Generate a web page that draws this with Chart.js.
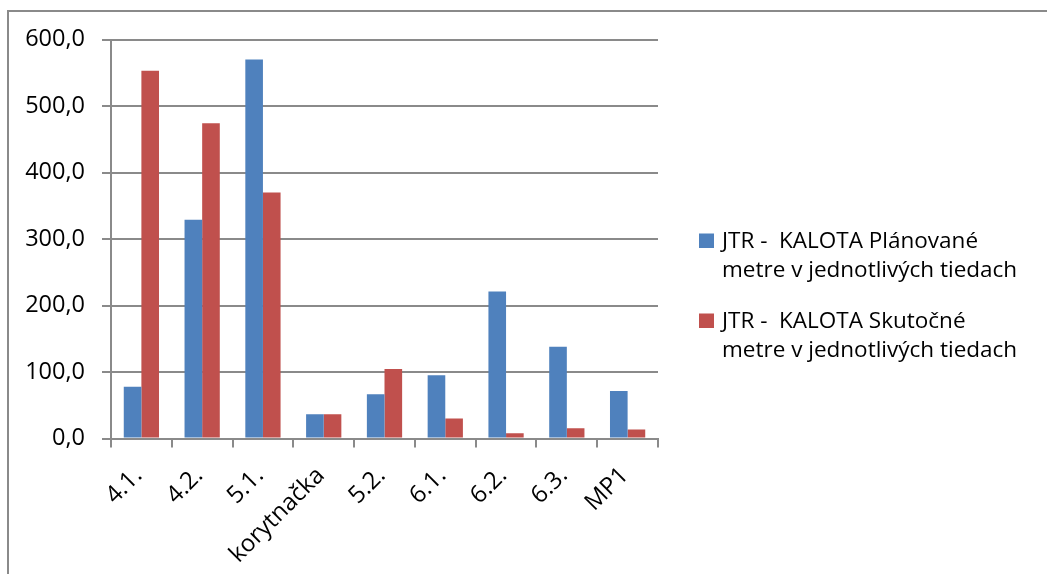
<!DOCTYPE html>
<html>
<head>
<meta charset="utf-8">
<script src="https://cdn.jsdelivr.net/npm/chart.js@4/dist/chart.umd.min.js"></script>
<style>
  html, body { margin: 0; padding: 0; background: #fff; }
  #wrap { width: 1047px; height: 574px; position: relative; }
</style>
</head>
<body>
<div id="wrap"><canvas id="c" width="1047" height="574"></canvas></div>
<script>
// Tunnel sections
const categories = ['4.1.', '4.2.', '5.1.', 'korytnačka', '5.2.', '6.1.', '6.2.', '6.3.', 'MP1'];

// Planned metres per section (JTR - KALOTA)
const plannedMetres = [78, 329, 570, 36.5, 66.5, 95, 221, 138, 71.5];

// Actual metres per section (JTR - KALOTA)
const actualMetres = [553, 474, 370, 36.5, 104.5, 30, 8, 15.5, 13.5];

// Legend text, one entry per series, split into its two lines
const seriesNames = [
  ['JTR -  KALOTA Plánované', 'metre v jednotlivých tiedach'],
  ['JTR -  KALOTA Skutočné', 'metre v jednotlivých tiedach']
];

const seriesColors = ['#4F81BD', '#C0504D'];

const FONT = '"Open Sans", "Liberation Sans", sans-serif';
const GRID = '#8a8a8a';

// Thin frame along the top and left edges of the figure
const framePlugin = {
  id: 'frame',
  beforeDraw(chart) {
    const ctx = chart.ctx;
    ctx.save();
    ctx.fillStyle = '#fff';
    ctx.fillRect(0, 0, chart.width, chart.height);
    ctx.strokeStyle = GRID;
    ctx.lineWidth = 2;
    ctx.beginPath();
    ctx.moveTo(8, chart.height);
    ctx.lineTo(8, 11);
    ctx.lineTo(chart.width, 11);
    ctx.stroke();
    ctx.restore();
  }
};

// Two-line legend drawn to the right of the plot
const sideLegend = {
  id: 'sideLegend',
  afterDraw(chart) {
    const ctx = chart.ctx;
    ctx.save();
    ctx.font = '22.5px ' + FONT;
    ctx.textBaseline = 'alphabetic';
    ctx.textAlign = 'left';
    const x0 = 699;
    let y = 248;
    chart.data.datasets.forEach((ds, i) => {
      const lines = seriesNames[i];
      ctx.fillStyle = ds.backgroundColor;
      ctx.fillRect(x0, y - 14.5, 15, 14.5);
      ctx.fillStyle = '#000';
      lines.forEach((ln, j) => ctx.fillText(ln, x0 + 23, y + j * 28.5));
      y += 80;
    });
    ctx.restore();
  }
};

new Chart(document.getElementById('c'), {
  type: 'bar',
  data: {
    labels: categories,
    datasets: [
      {
        label: seriesNames[0].join(' '),
        data: plannedMetres,
        backgroundColor: seriesColors[0],
        borderWidth: 0,
        barPercentage: 1,
        categoryPercentage: 0.58
      },
      {
        label: seriesNames[1].join(' '),
        data: actualMetres,
        backgroundColor: seriesColors[1],
        borderWidth: 0,
        barPercentage: 1,
        categoryPercentage: 0.58
      }
    ]
  },
  options: {
    responsive: false,
    animation: false,
    devicePixelRatio: 1,
    layout: { padding: { top: 39.5, right: 389, bottom: 0, left: 0 } },
    plugins: {
      legend: { display: false },
      tooltip: { enabled: false }
    },
    scales: {
      x: {
        grid: {
          offset: true,
          drawOnChartArea: false,
          color: GRID,
          lineWidth: 2,
          tickLength: 9
        },
        border: { color: GRID, width: 2 },
        ticks: {
          color: '#000',
          font: { family: FONT, size: 24 },
          minRotation: 45,
          maxRotation: 45,
          autoSkip: false,
          padding: 14,
          labelOffset: -3
        },
        afterFit(scale) { scale.height = 135.5; }
      },
      y: {
        min: 0,
        max: 600,
        grid: {
          color: GRID,
          lineWidth: 2,
          tickLength: 9
        },
        border: { color: GRID, width: 2 },
        ticks: {
          stepSize: 100,
          color: '#000',
          font: { family: FONT, size: 23.5 },
          padding: 17,
          callback: v => v.toFixed(1).replace('.', ',')
        },
        afterFit(scale) { scale.width = 111; }
      }
    }
  },
  plugins: [framePlugin, sideLegend]
});
</script>
</body>
</html>
